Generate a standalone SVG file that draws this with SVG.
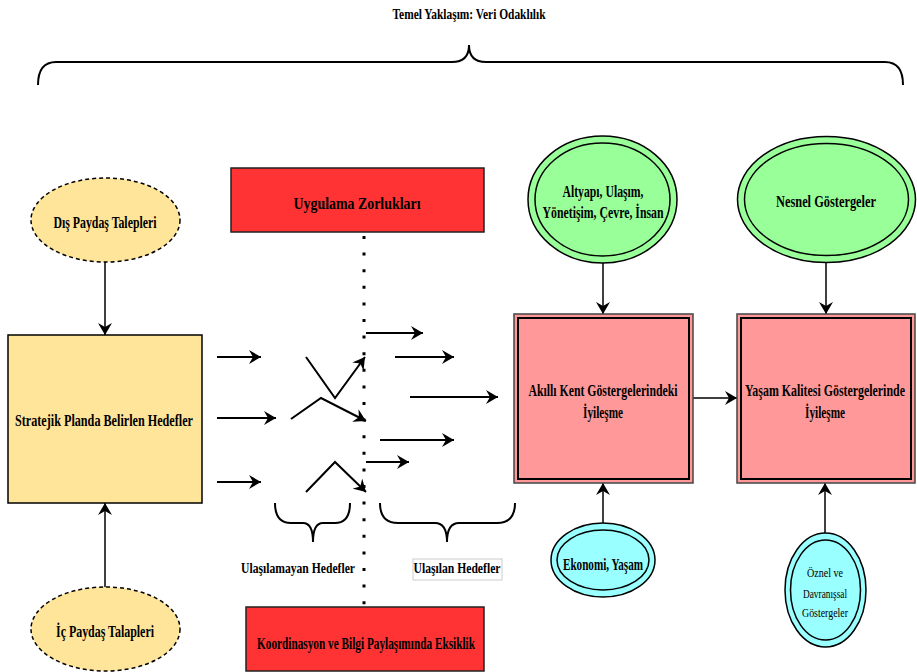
<svg xmlns="http://www.w3.org/2000/svg" width="917" height="672" viewBox="0 0 917 672">
<defs>
<marker id="ah" markerUnits="userSpaceOnUse" markerWidth="14" markerHeight="14" refX="12" refY="7" orient="auto">
<path d="M0,0 L12,7 L0,14 L4,7 z" fill="#000"/>
</marker>
<style>
text{font-family:"Liberation Serif","Times New Roman",serif;font-weight:bold;fill:#000;text-anchor:middle}
.t{font-size:16px}
.s{font-size:14px}
.n{font-weight:normal;font-size:13px}
.ln{stroke:#000;stroke-width:2;fill:none}
.cn{stroke:#000;stroke-width:1.5;fill:none;marker-end:url(#ah)}
.ar{stroke:#000;stroke-width:2;fill:none;marker-end:url(#ah)}
.dash{stroke:#000;stroke-width:1.5;stroke-dasharray:4 3}
.yel{fill:#ffe599}
.red{fill:#ff3333;stroke:#222;stroke-width:1.5}
.pink{fill:#ff9999;stroke:#444;stroke-width:1.5}
.inner{fill:none;stroke:#000;stroke-width:2}
.grn{fill:#99ff99;stroke:#000;stroke-width:1.5}
.cyn{fill:#99ffff;stroke:#000;stroke-width:1.5}
.ie{fill:none;stroke:#000;stroke-width:1.5}
</style>
</defs>
<rect width="917" height="672" fill="#fff"/>

<g id="title">
<text class="s" x="469" y="18.5" textLength="153" lengthAdjust="spacingAndGlyphs">Temel Yaklaşım: Veri Odaklılık</text>
<path class="ln" d="M38,85 Q38,62 56,62 L452,62 Q469,62 469,45 Q469,62 486,62 L885,62 Q903,62 903,85"/>
</g>

<g id="connectors">
<line class="cn" x1="105" y1="262" x2="105" y2="335"/>
<line class="cn" x1="105" y1="587" x2="105" y2="503"/>
<line class="cn" x1="603" y1="263" x2="603" y2="314"/>
<line class="cn" x1="826" y1="262" x2="826" y2="314"/>
<line class="cn" x1="603" y1="523" x2="603" y2="483"/>
<line class="cn" x1="825" y1="533" x2="825" y2="483"/>
<line class="cn" x1="693" y1="398" x2="737" y2="398"/>
<line x1="364" y1="236" x2="364" y2="607" stroke="#000" stroke-width="3" stroke-dasharray="3 13.6"/>
<line class="ar" x1="217" y1="357" x2="261" y2="357"/>
<line class="ar" x1="217" y1="418" x2="276" y2="418"/>
<line class="ar" x1="217" y1="482" x2="261" y2="482"/>
<polyline class="ar" points="306,357 335,398 365,357"/>
<polyline class="ar" points="291,419 321,398 366,421"/>
<polyline class="ar" points="306,492 335,462 366,492"/>
<line class="ar" x1="366" y1="333" x2="423" y2="333"/>
<line class="ar" x1="395" y1="357" x2="454" y2="357"/>
<line class="ar" x1="410" y1="397" x2="498" y2="397"/>
<line class="ar" x1="380" y1="440" x2="454" y2="440"/>
<line class="ar" x1="366" y1="462" x2="409" y2="462"/>
<path class="ln" d="M275,503 Q275,523 291,523 L303,523 Q313,523 313,542 Q313,523 323,523 L335,523 Q350,523 350,503"/>
<path class="ln" d="M380,503 Q380,523 398,523 L435,523 Q447,523 447,542 Q447,523 459,523 L497,523 Q515,523 515,503"/>
</g>

<g id="dis-paydas">
<ellipse class="yel dash" cx="105.5" cy="220" rx="74.5" ry="42"/>
<text class="t" x="105" y="228" textLength="103" lengthAdjust="spacingAndGlyphs">Dış Paydaş Talepleri</text>
</g>

<g id="stratejik">
<rect class="yel" x="8" y="335" width="194" height="168" stroke="#000" stroke-width="1.5"/>
<text class="t" x="104" y="426" textLength="178" lengthAdjust="spacingAndGlyphs">Stratejik Planda Belirlen Hedefler</text>
</g>

<g id="ic-paydas">
<ellipse class="yel dash" cx="105.5" cy="629" rx="74.5" ry="42"/>
<text class="t" x="105" y="637" textLength="98" lengthAdjust="spacingAndGlyphs">İç Paydaş Talapleri</text>
</g>

<g id="uygulama">
<rect class="red" x="231" y="168" width="253" height="64"/>
<text x="357" y="209" font-size="17" textLength="127" lengthAdjust="spacingAndGlyphs">Uygulama Zorlukları</text>
</g>

<g id="koordinasyon">
<rect class="red" x="246" y="607" width="238" height="64"/>
<text class="t" x="366" y="649" textLength="218" lengthAdjust="spacingAndGlyphs">Koordinasyon ve Bilgi Paylaşımında Eksiklik</text>
</g>

<g id="ulasilamayan">
<text class="s" x="298" y="573" textLength="114" lengthAdjust="spacingAndGlyphs">Ulaşılamayan Hedefler</text>
</g>

<g id="ulasilan">
<rect x="413" y="559" width="89" height="21" fill="#fff" stroke="#ccc" stroke-width="1"/>
<text class="s" x="457" y="573" textLength="87" lengthAdjust="spacingAndGlyphs">Ulaşılan Hedefler</text>
</g>

<g id="akilli-kent">
<rect class="pink" x="514" y="314" width="179" height="169"/>
<rect class="inner" x="518" y="318" width="171" height="161"/>
<text class="t" x="603" y="396" textLength="149" lengthAdjust="spacingAndGlyphs">Akıllı Kent Göstergelerindeki</text>
<text class="t" x="603" y="418" textLength="40" lengthAdjust="spacingAndGlyphs">İyileşme</text>
</g>

<g id="yasam-kalitesi">
<rect class="pink" x="737" y="314" width="178" height="169"/>
<rect class="inner" x="741" y="318" width="170" height="161"/>
<text class="t" transform="translate(825,396) scale(0.72,1)" x="0" y="0" textLength="222" lengthAdjust="spacingAndGlyphs">Yaşam Kalitesi Göstergelerinde</text>
<text class="t" x="825" y="418" textLength="40" lengthAdjust="spacingAndGlyphs">İyileşme</text>
</g>

<g id="altyapi">
<ellipse class="grn" cx="602.5" cy="199.5" rx="74.5" ry="63.5"/>
<ellipse class="ie" cx="602.5" cy="199.5" rx="67.5" ry="56.5"/>
<text class="t" x="603" y="197" textLength="81" lengthAdjust="spacingAndGlyphs">Altyapı, Ulaşım,</text>
<text class="t" x="603" y="218" textLength="121" lengthAdjust="spacingAndGlyphs">Yönetişim, Çevre, İnsan</text>
</g>

<g id="nesnel">
<ellipse class="grn" cx="826.5" cy="199.5" rx="89" ry="63"/>
<ellipse class="ie" cx="826.5" cy="199.5" rx="82" ry="56"/>
<text class="t" x="826" y="207" textLength="100" lengthAdjust="spacingAndGlyphs">Nesnel Göstergeler</text>
</g>

<g id="ekonomi">
<ellipse class="cyn" cx="603" cy="560" rx="52" ry="37"/>
<ellipse class="ie" cx="603" cy="560" rx="46" ry="30"/>
<text class="t" x="603" y="570" textLength="80" lengthAdjust="spacingAndGlyphs">Ekonomi, Yaşam</text>
</g>

<g id="oznel">
<ellipse class="cyn" cx="825.5" cy="590" rx="40.5" ry="57"/>
<ellipse class="ie" cx="825.5" cy="590" rx="35" ry="50"/>
<text class="n" x="825" y="577" textLength="36" lengthAdjust="spacingAndGlyphs">Öznel ve</text>
<text class="n" x="825" y="598" textLength="44" lengthAdjust="spacingAndGlyphs">Davranışsal</text>
<text class="n" x="825" y="617" textLength="46" lengthAdjust="spacingAndGlyphs">Göstergeler</text>
</g>
</svg>
